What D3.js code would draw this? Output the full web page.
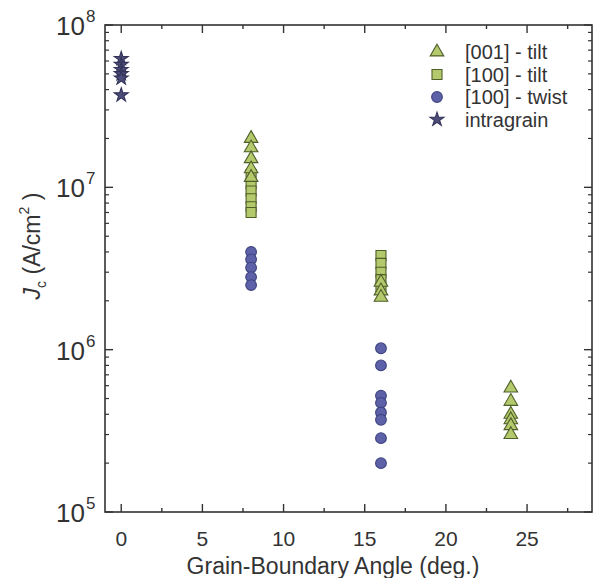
<!DOCTYPE html>
<html><head><meta charset="utf-8">
<script src="https://cdn.jsdelivr.net/npm/d3@7"></script>
<style>body{margin:0;background:#fff}</style>
</head><body>
<svg id="c" width="595" height="578"></svg>
<script>
// Data
const tilt001X = [8,8,8,8,8, 16,16,16, 24,24,24,24,24,24];
const tilt001Y = [2.0e7,1.75e7,1.5e7,1.3e7,1.15e7, 2.6e6,2.3e6,2.1e6, 5.8e5,4.8e5,4.0e5,3.7e5,3.4e5,3.0e5];
const tilt100X = [8,8,8,8,8,8, 16,16,16,16,16];
const tilt100Y = [1.2e7,1.05e7,9.5e6,8.5e6,7.6e6,7.0e6, 3.8e6,3.4e6,3.0e6,2.7e6,2.4e6];
const twistX = [8,8,8,8,8, 16,16,16,16,16,16,16,16];
const twistY = [4.0e6,3.6e6,3.2e6,2.8e6,2.5e6, 1.02e6,8.0e5,5.2e5,4.7e5,4.1e5,3.7e5,2.85e5,2.0e5];
const intraX = [0,0,0,0,0,0];
const intraY = [6.2e7,5.7e7,5.3e7,5.0e7,4.7e7,3.7e7];
const xTicks = [0,5,10,15,20,25];
const yTickExp = [5,6,7,8];
const seriesNames = ["[001] - tilt","[100] - tilt","[100] - twist","intragrain"];

const svg = d3.select("#c");
const L=105, R=592, T=25, B=512;
const x = d3.scaleLinear().domain([-1,29]).range([L,R]);
const y = d3.scaleLog().domain([1e5,1e8]).range([B,T]);
const ink = "#333";
const font = "Liberation Sans, Arial, sans-serif";

// frame
svg.append("rect").attr("x",L).attr("y",T).attr("width",R-L).attr("height",B-T)
  .attr("fill","none").attr("stroke",ink).attr("stroke-width",1.6);

// x ticks (inward, mirrored on top)
const xMinor = d3.range(0, 29, 2.5);
xMinor.forEach(v=>{
  const major = Math.abs(v%5)<1e-9;
  const len = major?8:4;
  svg.append("line").attr("x1",x(v)).attr("x2",x(v)).attr("y1",B).attr("y2",B-len).attr("stroke",ink).attr("stroke-width",1.4);
  svg.append("line").attr("x1",x(v)).attr("x2",x(v)).attr("y1",T).attr("y2",T+len).attr("stroke",ink).attr("stroke-width",1.4);
});
svg.selectAll(".xt").data(xTicks).join("text")
  .attr("x",d=>x(d)).attr("y",546).attr("text-anchor","middle")
  .attr("font-family",font).attr("font-size",21).attr("fill",ink).text(d=>d);

// y ticks
for(let e=5;e<8;e++){
  for(let m=2;m<=9;m++){
    const v=m*Math.pow(10,e);
    svg.append("line").attr("x1",L).attr("x2",L+4).attr("y1",y(v)).attr("y2",y(v)).attr("stroke",ink).attr("stroke-width",1.2);
    svg.append("line").attr("x1",R).attr("x2",R-4).attr("y1",y(v)).attr("y2",y(v)).attr("stroke",ink).attr("stroke-width",1.2);
  }
}
yTickExp.forEach(e=>{
  const v=Math.pow(10,e);
  svg.append("line").attr("x1",L).attr("x2",L+8).attr("y1",y(v)).attr("y2",y(v)).attr("stroke",ink).attr("stroke-width",1.4);
  svg.append("line").attr("x1",R).attr("x2",R-8).attr("y1",y(v)).attr("y2",y(v)).attr("stroke",ink).attr("stroke-width",1.4);
  svg.append("text").attr("x",85).attr("y",y(v)+10).attr("text-anchor","end")
    .attr("font-family",font).attr("font-size",26).attr("fill",ink).text("10");
  svg.append("text").attr("x",86).attr("y",y(v)-3).attr("font-family",font).attr("font-size",17).attr("fill",ink).text(e);
});

// axis titles
svg.append("text").attr("x",333).attr("y",574).attr("text-anchor","middle")
  .attr("font-family",font).attr("font-size",23).attr("fill",ink).text("Grain-Boundary Angle (deg.)");
const yt = svg.append("text").attr("transform","translate(40,246) rotate(-90)").attr("text-anchor","middle")
  .attr("font-family",font).attr("font-size",23).attr("fill",ink);
yt.append("tspan").attr("font-style","italic").text("J");
yt.append("tspan").attr("font-size",14).attr("dy",6).text("c");
yt.append("tspan").attr("dy",-6).text(" (A/cm");
yt.append("tspan").attr("font-size",14).attr("dy",-11).text("2");
yt.append("tspan").attr("dy",11).text(" )");

// markers
const green="#b3c96b", greenS="#4f5f2a", blue="#5d62a8", blueS="#3e4280", star="#4d4d7a", starS="#33335a";
const sym = {
  tri: d3.symbol().type(d3.symbolTriangle).size(80),
  sq: d3.symbol().type(d3.symbolSquare).size(100),
  circ: d3.symbol().type(d3.symbolCircle).size(90),
  star: d3.symbol().type(d3.symbolStar).size(60)
};
function draw(xs, ys, s, fill, stroke){
  svg.append("g").selectAll("path").data(xs.map((d,i)=>[d,ys[i]])).join("path")
    .attr("d",s).attr("transform",d=>`translate(${x(d[0])},${y(d[1])})`)
    .attr("fill",fill).attr("stroke",stroke).attr("stroke-width",1.1);
}
draw(twistX,twistY,sym.circ,blue,blueS);
draw(tilt100X,tilt100Y,sym.sq,green,greenS);
draw(tilt001X,tilt001Y,sym.tri,green,greenS);
draw(intraX,intraY,sym.star,star,starS);

// legend
const legSyms=[[sym.tri,green,greenS],[sym.sq,green,greenS],[sym.circ,blue,blueS],[sym.star,star,starS]];
seriesNames.forEach((n,i)=>{
  const ly = 52 + i*22.5;
  svg.append("path").attr("d",legSyms[i][0]).attr("transform",`translate(437,${ly})`)
    .attr("fill",legSyms[i][1]).attr("stroke",legSyms[i][2]).attr("stroke-width",1.1);
  svg.append("text").attr("x",465).attr("y",ly+7).attr("font-family",font).attr("font-size",20).attr("fill",ink).text(n);
});
</script>
</body></html>
